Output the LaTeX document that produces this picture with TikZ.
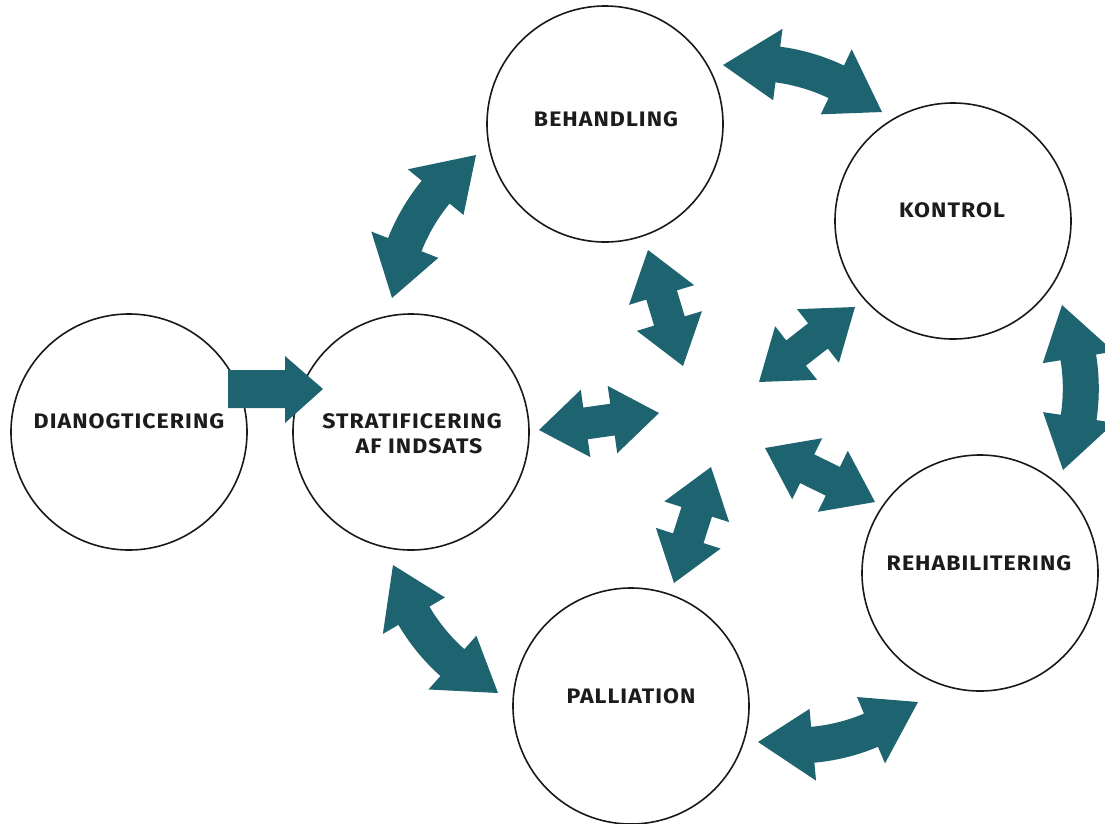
\documentclass[tikz,border=0pt]{standalone}
\usepackage{fontspec}
\setmainfont{Fira Sans}[FakeStretch=1.1,LetterSpace=5]
\usetikzlibrary{calc}
\definecolor{arrcol}{RGB}{30,99,112}
\definecolor{txtcol}{RGB}{28,28,28}
\newcommand\hl{55}
\newcommand\hw{36}
\newcommand\sw{18}
% curved double arrow: tips (x1,y1) (x2,y2), half turn angle beta (bulge on left of travel, screen)
\newcommand\carr[5]{%
  \pgfmathsetmacro\dx{#3-#1}\pgfmathsetmacro\dy{#4-#2}%
  \pgfmathsetmacro\cc{veclen(\dx,\dy)}%
  \pgfmathsetmacro\ph{atan2(\dy,\dx)}%
  \pgfmathsetmacro\RR{\cc/(2*sin(#5))}%
  \pgfmathsetmacro\mx{(#1+#3)/2+\RR*cos(#5)*cos(\ph+90)}%
  \pgfmathsetmacro\my{(#2+#4)/2+\RR*cos(#5)*sin(\ph+90)}%
  \pgfmathsetmacro\aA{\ph-90-#5}%
  \pgfmathsetmacro\aB{\ph-90+#5}%
  \pgfmathsetmacro\dd{\hl/\RR*180/pi}%
  \pgfmathsetmacro\bA{\aA+\dd}\pgfmathsetmacro\bB{\aB-\dd}%
  \pgfmathsetmacro\Rho{\RR+\hw}\pgfmathsetmacro\Rhi{\RR-\hw}%
  \pgfmathsetmacro\Rso{\RR+\sw}\pgfmathsetmacro\Rsi{\RR-\sw}%
  \begin{scope}[shift={(\mx,\my)}]
  \fill[arrcol] (\aA:\RR) -- (\bA:\Rho) -- (\bA:\Rso)
     arc[start angle=\bA, end angle=\bB, radius=\Rso]
     -- (\bB:\Rho) -- (\aB:\RR) -- (\bB:\Rhi) -- (\bB:\Rsi)
     arc[start angle=\bB, end angle=\bA, radius=\Rsi]
     -- (\bA:\Rhi) -- cycle;
  \end{scope}}
% straight double arrow between tips
\newcommand\sarr[7]{% x1 y1 x2 y2 headlen headhalf shafthalf
  \pgfmathsetmacro\dx{#3-#1}\pgfmathsetmacro\dy{#4-#2}%
  \pgfmathsetmacro\LL{veclen(\dx,\dy)}%
  \pgfmathsetmacro\ph{atan2(\dy,\dx)}%
  \pgfmathsetmacro\LH{\LL-#5}%
  \begin{scope}[shift={(#1,#2)}, rotate=-\ph]
  \fill[arrcol] (0,0) -- (#5,#6) -- (#5,#7) -- (\LH,#7) -- (\LH,#6) -- (\LL,0)
     -- (\LH,-#6) -- (\LH,-#7) -- (#5,-#7) -- (#5,-#6) -- cycle;
  \end{scope}}
\tikzset{
  circ/.style={circle, draw=black!90, line width=1.6pt, minimum size=236pt, inner sep=0pt},
  lbl/.style={font=\fontsize{21}{25}\selectfont\bfseries, text=txtcol, inner sep=0pt, align=center}
}
\begin{document}
\begin{tikzpicture}[x=1pt,y=-1pt]
\useasboundingbox (0,0) rectangle (1105,823);
\clip (0,0) rectangle (1105,823);
\fill[white] (0,0) rectangle (1105,823);
% circles
\node[circ] (dia) at (129,432) {};
\node[circ] (str) at (411,432) {};
\node[circ] (beh) at (605,124) {};
\node[circ] (kon) at (953,221) {};
\node[circ] (reh) at (980,573) {};
\node[circ] (pal) at (631,706) {};
% labels
\node[lbl] (tdia) at ($(dia)+(0,-11)$) {DIANOGTICERING};
\node[lbl] (tstr1) at ($(str)+(1,-11)$) {STRATIFICERING};
\node[lbl] (tstr2) at ($(str)+(8,14)$) {AF INDSATS};
\node[lbl] (tbeh) at ($(beh)+(1,-5)$) {BEHANDLING};
\node[lbl] (tkon) at ($(kon)+(-1,-11)$) {KONTROL};
\node[lbl] (treh) at ($(reh)+(-1,-10)$) {REHABILITERING};
\node[lbl] (tpal) at ($(pal)+(0,-10)$) {PALLIATION};
% single arrow
\fill[arrcol] (228,370) -- (285,370) -- (285,356) -- (323,389) -- (285,423) -- (285,408) -- (228,408) -- cycle;
% outer curved arrows
\carr{723}{65}{882}{112}{25}
\carr{1062}{305}{1063}{470}{25}
\carr{918}{702}{758}{742}{25}
\carr{498}{693}{393}{565}{25}
\carr{392}{298}{476}{155}{25}
% center straight arrows
\sarr{648}{250}{683}{366}{47}{34}{16}
\sarr{855}{307}{759}{382}{47}{34}{16}
\sarr{539}{430}{659}{413}{47}{34}{16}
\sarr{711}{467}{674}{583}{47}{34}{16}
\sarr{765}{448}{875}{502}{47}{34}{16}
\end{tikzpicture}
\end{document}
